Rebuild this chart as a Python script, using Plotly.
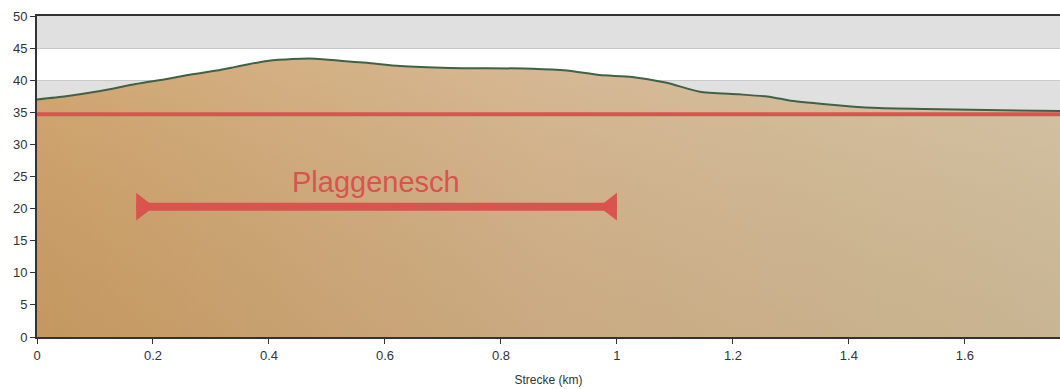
import plotly.graph_objects as go

# Elevation profile (km, m)
dist_km = [0.0, 0.05, 0.109, 0.17, 0.224, 0.26, 0.31, 0.338, 0.365, 0.397, 0.441, 0.48, 0.527,
           0.569, 0.626, 0.712, 0.855, 0.914, 0.97, 1.026, 1.086, 1.143, 1.21, 1.265,
           1.3, 1.38, 1.44, 1.53, 1.764]
elev_m = [37.0, 37.5, 38.3, 39.4, 40.2, 40.8, 41.5, 42.0, 42.5, 43.0, 43.3, 43.35, 43.0,
          42.7, 42.2, 41.9, 41.8, 41.5, 40.8, 40.5, 39.6, 38.2, 37.8, 37.4,
          36.8, 36.1, 35.7, 35.5, 35.2]

ref_level = 34.7
segment_name = "Plaggenesch"
segment_x = [0.171, 1.0]
segment_y = 20.3
label_xy = (0.584, 24.2)

x_range = [0, 1.764]
y_range = [0, 50]
band_edges = [(45, 50), (35, 40), (25, 30), (15, 20), (5, 10)]

RED = "rgb(217,84,78)"
W, H = 1060, 389
M = dict(l=37, r=0, t=16, b=52)
px_per_km = (W - M["l"] - M["r"]) / (x_range[1] - x_range[0])
cap_size = 24
cap_off = (cap_size / 4) / px_per_km  # base of triangle sits at the segment end

fig = go.Figure()

# Filled profile with horizontal gradient
fig.add_trace(go.Scatter(
    x=dist_km, y=elev_m, mode="lines", line=dict(width=0, shape="spline", smoothing=0.6),
    fill="tozeroy",
    fillgradient=dict(type="horizontal",
                      colorscale=[[0, "rgb(203,157,100)"], [0.5, "rgb(209,177,138)"],
                                  [1, "rgb(207,189,156)"]]),
    hoverinfo="skip", showlegend=False))
# Vertical shading overlay
fig.add_trace(go.Scatter(
    x=dist_km, y=elev_m, mode="lines", line=dict(width=0, shape="spline", smoothing=0.6),
    fill="tozeroy",
    fillgradient=dict(type="vertical",
                      colorscale=[[0, "rgba(120,90,40,0.08)"], [1, "rgba(255,245,230,0.12)"]]),
    hoverinfo="skip", showlegend=False))
# Profile line
fig.add_trace(go.Scatter(
    x=dist_km, y=elev_m, mode="lines",
    line=dict(color="rgb(62,98,72)", width=2, shape="spline", smoothing=0.6),
    hoverinfo="skip", showlegend=False))

# Reference level line
fig.add_trace(go.Scatter(
    x=x_range, y=[ref_level, ref_level], mode="lines",
    line=dict(color=RED, width=4), hoverinfo="skip", showlegend=False))

# Segment bar
fig.add_trace(go.Scatter(
    x=segment_x, y=[segment_y, segment_y], mode="lines",
    line=dict(color=RED, width=8), hoverinfo="skip", showlegend=False))
fig.add_trace(go.Scatter(
    x=[segment_x[0] + cap_off, segment_x[1] - cap_off], y=[segment_y, segment_y], mode="markers",
    marker=dict(symbol=["triangle-right", "triangle-left"], size=cap_size, color=RED,
                line=dict(width=0)),
    hoverinfo="skip", showlegend=False))

fig.add_annotation(x=label_xy[0], y=label_xy[1], text=segment_name, showarrow=False,
                   font=dict(family="Liberation Sans, Arial, sans-serif", size=29, color=RED))

for y0, y1 in band_edges:
    fig.add_shape(type="rect", xref="x", yref="y", x0=x_range[0], x1=x_range[1], y0=y0, y1=y1,
                  fillcolor="rgb(224,224,224)", line=dict(width=0), layer="below")

fig.update_layout(
    width=W, height=H,
    margin=M,
    paper_bgcolor="white", plot_bgcolor="white",
    font=dict(family="Liberation Sans, Arial, sans-serif", size=12, color="#333"),
    xaxis=dict(range=x_range, tickvals=[0, 0.2, 0.4, 0.6, 0.8, 1, 1.2, 1.4, 1.6],
               ticktext=["0", "0.2", "0.4", "0.6", "0.8", "1", "1.2", "1.4", "1.6"],
               showgrid=False, zeroline=False, showline=True, linecolor="#333", linewidth=2,
               mirror=True, ticks="outside", ticklen=5, tickcolor="#333", automargin=False,
               tickfont=dict(size=13),
               title=dict(text="Strecke (km)", font=dict(size=12), standoff=14)),
    yaxis=dict(range=y_range, dtick=5, showgrid=True, gridcolor="rgb(200,200,200)",
               zeroline=False, showline=True, linecolor="#333", linewidth=2, automargin=False,
               tickfont=dict(size=13),
               ticks="outside", ticklen=5, tickcolor="#333", layer="above traces"),
)

fig.write_html("out.html", config={"displayModeBar": False},
               post_script="document.body.style.margin='0';document.body.style.overflow='hidden';")
